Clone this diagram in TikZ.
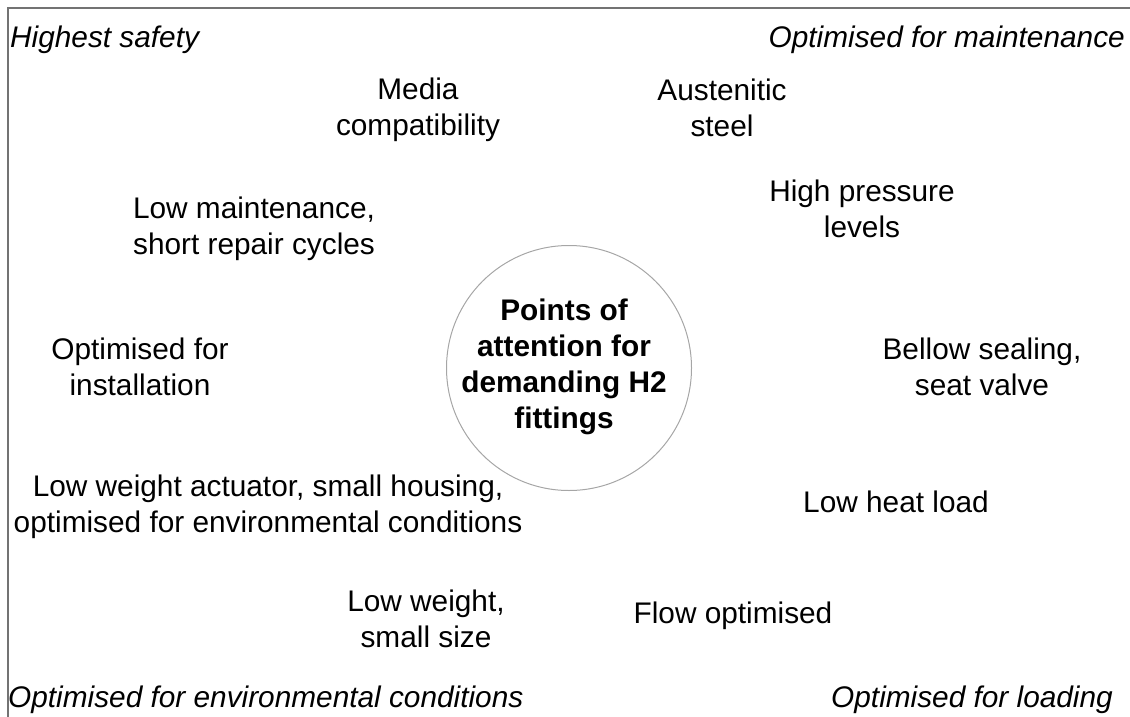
\documentclass[tikz,border=0pt]{standalone}
\usepackage{fontspec}
\setmainfont{Liberation Sans}
\begin{document}
\begin{tikzpicture}[x=1pt,y=-1pt,
  lbl/.style={align=center,inner sep=0pt,font=\fontsize{29.8}{35.5}\selectfont},
  corner/.style={inner sep=0pt,font=\fontsize{29.8}{35.5}\selectfont\itshape},
  ring/.style={circle,draw=black!35,line width=1pt,minimum size=245pt,inner sep=0pt},
  hubtext/.style={align=center,inner sep=0pt,font=\fontsize{29.8}{36}\selectfont\bfseries}]
\useasboundingbox (0,0) rectangle (1130,717);
% frame
\draw[black!55,line width=1.2pt] (8,717) -- (8,8) -- (1130,8);
% centre circle
\node[ring] (hub) at (569,368) {};
\node[hubtext] (hubt) at (564,367) {Points of\\attention for\\demanding H2\\fittings};
% corner captions
\node[corner,anchor=west] (c1) at (10,40) {Highest safety};
\node[corner,anchor=east] (c2) at (1125,40) {Optimised for maintenance};
\node[corner,anchor=west] (c3) at (8,700) {Optimised for environmental conditions};
\node[corner,anchor=east] (c4) at (1113,700) {Optimised for loading};
% surrounding points
\node[lbl] (p1) at (418,110) {Media\\compatibility};
\node[lbl] (p2) at (722,108) {Austenitic\\steel};
\node[lbl] (p3) at (862,209) {High pressure\\levels};
\node[lbl] (p4) at (254,229) {Low maintenance,\\short repair cycles};
\node[lbl] (p5) at (140,367) {Optimised for\\installation};
\node[lbl] (p6) at (982,367) {Bellow sealing,\\seat valve};
\node[lbl] (p7) at (268,507) {Low weight actuator, small housing,\\optimised for environmental conditions};
\node[lbl] (p8) at (896,502) {Low heat load};
\node[lbl] (p9) at (426,619) {Low weight,\\small size};
\node[lbl] (p10) at (733,616) {Flow optimised};
\end{tikzpicture}
\end{document}
